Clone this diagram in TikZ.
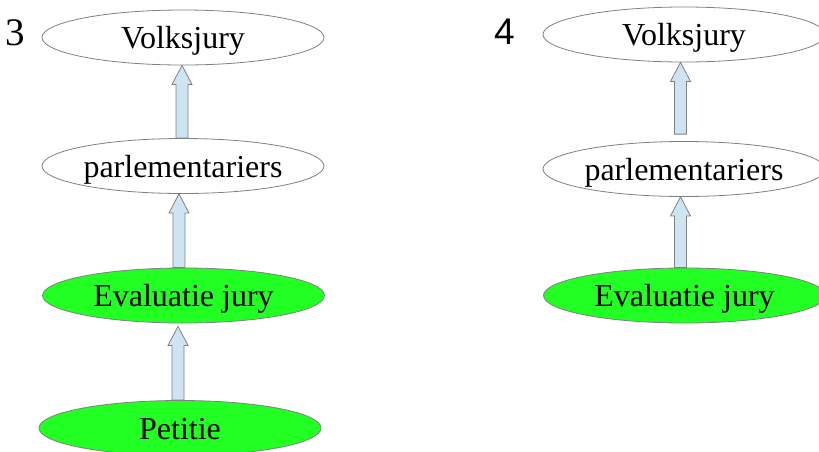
\documentclass[tikz,border=0pt]{standalone}
\usepackage{fontspec}
\setmainfont{Liberation Serif}
\newfontfamily\arialfont{Liberation Sans}
\newfontfamily\timesfont{Liberation Serif}
\usetikzlibrary{shapes.geometric,calc}
\definecolor{nodegreen}{HTML}{22FF22}
\definecolor{arrowblue}{HTML}{CFE4F3}
\definecolor{edgegray}{HTML}{808080}
\tikzset{
  oval/.style={ellipse, draw=edgegray, line width=0.8pt, minimum width=282pt, minimum height=55pt, inner sep=0pt, text height=22.5pt, text depth=0pt, font=\fontsize{32}{36}\selectfont},
  ovalwhite/.style={oval, fill=white},
  ovalgreen/.style={oval, fill=nodegreen},
  barrow/.style={draw=edgegray, fill=arrowblue, line width=0.8pt, line join=miter},
  numlabel/.style={inner sep=0pt}
}
\newcommand{\blockarrow}[2]{%
  \draw[barrow] let \p1=(#1), \p2=(#2) in
    (\x1-6pt,\y1) -- (\x1+6pt,\y1) -- (\x1+6pt,\y2-19pt) -- (\x1+10pt,\y2-19pt)
    -- (\x1,\y2) -- (\x1-10pt,\y2-19pt) -- (\x1-6pt,\y2-19pt) -- cycle;}
\begin{document}
\begin{tikzpicture}[x=1pt,y=-1pt]
\useasboundingbox (0,0) rectangle (819,451);
\begin{scope}
\clip (0,0) rectangle (819,451);
% left column
\node[ovalwhite] (v3) at (183,37.5) {Volksjury};
\node[ovalwhite] (p3) at (183,166) {parlementariers};
\node[ovalgreen] (e3) at (183.5,295.5) {Evaluatie jury};
\node[ovalgreen] (t3) at (180,428) {Petitie};
\node[numlabel, anchor=base west, font=\timesfont\fontsize{39}{40}\selectfont] (n3) at (5,45) {3};
% right column
\node[ovalwhite] (v4) at (684,34.5) {Volksjury};
\node[ovalwhite] (p4) at (684,169) {parlementariers};
\node[ovalgreen] (e4) at (684.5,295.5) {Evaluatie jury};
\node[numlabel, anchor=base west, font=\arialfont\fontsize{37}{40}\selectfont] (n4) at (494,44) {4};
% arrows
\blockarrow{[xshift=-1pt]p3.north}{[xshift=-1pt]v3.south}
\blockarrow{[xshift=-4.5pt]e3.north}{[xshift=-4.5pt,yshift=0pt]p3.south}
\blockarrow{[xshift=-2pt]t3.north}{[xshift=-5.5pt,yshift=-3pt]e3.south}
\blockarrow{[xshift=-3.5pt,yshift=7pt]p4.north}{[xshift=-3.5pt]v4.south}
\blockarrow{[xshift=-4pt]e4.north}{[xshift=-3.5pt]p4.south}
\end{scope}
\end{tikzpicture}
\end{document}
